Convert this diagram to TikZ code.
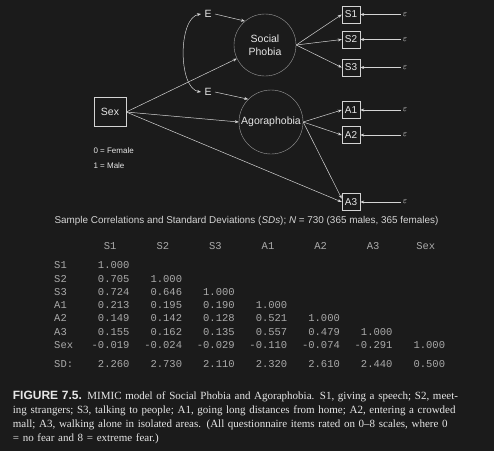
\documentclass[tikz,border=0pt]{standalone}
\usepackage{fontspec}
\setmainfont{Liberation Serif}
\setsansfont{Liberation Sans}
\setmonofont{Liberation Mono}
\usetikzlibrary{arrows.meta}

\definecolor{bg}{HTML}{1B1B1B}
\definecolor{ink}{HTML}{E6E6E6}
\definecolor{wire}{HTML}{D4D4D4}
\definecolor{rim}{HTML}{9C9C9C}
\definecolor{grid}{HTML}{AAAAAA}

\newcommand{\rowlab}[1]{\makebox[22.7pt][l]{#1}}
\newcommand{\cell}[1]{\makebox[52.6pt][r]{#1}}
\newcommand{\hd}[1]{\makebox[52.6pt][r]{\makebox[38.6pt]{#1}}}

\begin{document}
\begin{tikzpicture}[x=1pt,y=-1pt,>={Stealth[length=4pt,width=3pt]},color=ink,
		font=\sffamily\fontsize{10.5}{12.5}\selectfont]
	\fill[bg] (0,0) rectangle (494,451);

	\node[draw=wire,minimum width=32pt,minimum height=29pt] (Sex) at (110,112) {Sex};
	\node (E1) at (208,14) {E};
	\node (E2) at (208,92) {E};
	\begin{scope}[every node/.style={circle,draw=rim,line width=0.4pt,inner sep=0pt}]
		\node[minimum size=62pt,align=center] (SP) at (265,45) {Social\\Phobia};
		\node[minimum size=64pt] (AG) at (271,122) {Agoraphobia};
	\end{scope}

	\begin{scope}[every node/.style={draw=wire,inner sep=1pt,minimum width=18pt,minimum height=17pt,
			font=\sffamily\fontsize{10}{12}\selectfont}]
		\node (S1) at (351,14.5) {S1};
		\node (S2) at (351,39.5) {S2};
		\node (S3) at (351,67.5) {S3};
		\node (A1) at (351,110) {A1};
		\node (A2) at (351,135) {A2};
		\node (A3) at (351,202) {A3};
	\end{scope}

	\begin{scope}[every node/.style={font=\fontsize{9.5}{10}\selectfont,inner sep=2pt}]
		\node (e1) at (405,14.5) {$\varepsilon$};
		\node (e2) at (405,39.5) {$\varepsilon$};
		\node (e3) at (405,67.5) {$\varepsilon$};
		\node (e4) at (405,110) {$\varepsilon$};
		\node (e5) at (405,135) {$\varepsilon$};
		\node (e6) at (405,202) {$\varepsilon$};
	\end{scope}

	\begin{scope}[every node/.style={anchor=west,font=\sffamily\fontsize{8}{9}\selectfont}]
		\node (fem) at (90,151) {0 = Female};
		\node (mal) at (90,166) {1 = Male};
	\end{scope}

	\begin{scope}[every edge/.style={draw=wire,line width=0.5pt}]
		\path [->] (Sex.east) edge (SP);
		\path [->] (Sex.east) edge (AG.west);
		\path [->] (Sex.east) edge (A3.west);
		\path [->] (E1.east) edge (SP.130);
		\path [->] (E2.east) edge (AG.135);
		\path [->] (SP.east) edge (S1.west);
		\path [->] (SP.east) edge (S2.west);
		\path [->] (SP.east) edge (S3.west);
		\path [->] (AG.east) edge (A1.west);
		\path [->] (AG.east) edge (A2.west);
		\path [->] (AG.east) edge (A3.160);
		\path [->] (e1) edge (S1);
		\path [->] (e2) edge (S2);
		\path [->] (e3) edge (S3);
		\path [->] (e4) edge (A1);
		\path [->] (e5) edge (A2);
		\path [->] (e6) edge (A3);
	\end{scope}
	\draw[<->,draw=wire,line width=0.5pt] (E1.west) .. controls (178,18) and (178,88) .. (E2.west);

	\node[color=wire,font=\sffamily\fontsize{9.9}{11}\selectfont] (title) at (246.5,220.7)
		{Sample Correlations and Standard Deviations (\textit{SDs}); \textit{N} = 730 (365 males, 365 females)};

	% correlation table
	\begin{scope}[every node/.style={anchor=base west,inner sep=0pt,color=grid,
			font=\ttfamily\fontsize{10.5}{12}\selectfont}]
		\node (hdr) at (54,249) {\rowlab{}\hd{S1}\hd{S2}\hd{S3}\hd{A1}\hd{A2}\hd{A3}\hd{Sex}};
		\node (rS1) at (54,268) {\rowlab{S1}\cell{1.000}};
		\node (rS2) at (54,282) {\rowlab{S2}\cell{0.705}\cell{1.000}};
		\node (rS3) at (54,295) {\rowlab{S3}\cell{0.724}\cell{0.646}\cell{1.000}};
		\node (rA1) at (54,308.3) {\rowlab{A1}\cell{0.213}\cell{0.195}\cell{0.190}\cell{1.000}};
		\node (rA2) at (54,321.6) {\rowlab{A2}\cell{0.149}\cell{0.142}\cell{0.128}\cell{0.521}\cell{1.000}};
		\node (rA3) at (54,335) {\rowlab{A3}\cell{0.155}\cell{0.162}\cell{0.135}\cell{0.557}\cell{0.479}\cell{1.000}};
		\node (rSex) at (54,348.3) {\rowlab{Sex}\cell{-0.019}\cell{-0.024}\cell{-0.029}\cell{-0.110}\cell{-0.074}\cell{-0.291}\cell{1.000}};
		\node (rSD) at (54,367.6) {\rowlab{SD:}\cell{2.260}\cell{2.730}\cell{2.110}\cell{2.320}\cell{2.610}\cell{2.440}\cell{0.500}};
	\end{scope}

	\node[anchor=north west,inner sep=0pt,text width=472pt,
		font=\rmfamily\fontsize{11}{14}\selectfont] (cap) at (12.7,391)
		{\noindent{\sffamily\bfseries\fontsize{12}{14}\selectfont FIGURE 7.5.} MIMIC model of Social Phobia and Agoraphobia. S1, giving a speech; S2, meet-\linebreak
		ing strangers; S3, talking to people; A1, going long distances from home; A2, entering a crowded\linebreak
		mall; A3, walking alone in isolated areas. (All questionnaire items rated on 0--8 scales, where 0\linebreak
		= no fear and 8 = extreme fear.)};
\end{tikzpicture}
\end{document}
